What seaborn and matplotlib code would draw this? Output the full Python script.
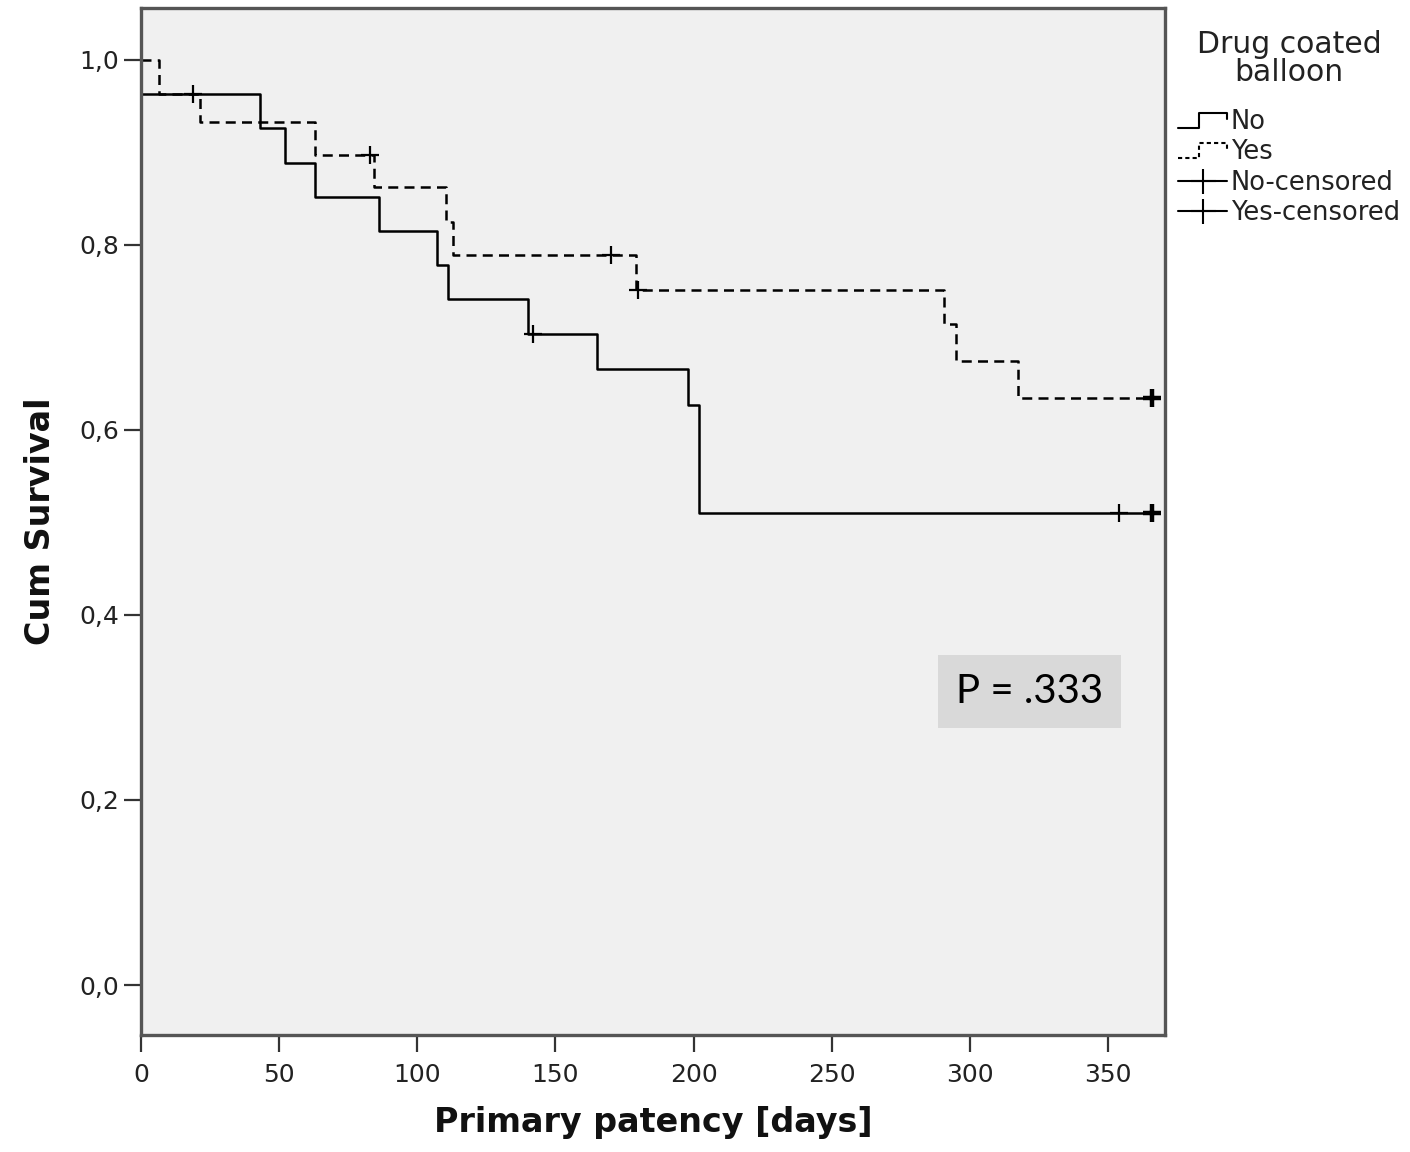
import numpy as np
import pandas as pd
import matplotlib
matplotlib.use("Agg")
import matplotlib.pyplot as plt
import seaborn as sns
from matplotlib.lines import Line2D
from matplotlib.legend_handler import HandlerBase
from matplotlib.ticker import FuncFormatter

# ---- data ----
no_times = [0, 43, 52, 63, 86, 107, 111, 140, 165, 198, 202, 366]
no_surv = [0.963, 0.926, 0.889, 0.852, 0.815, 0.778, 0.741, 0.704, 0.666, 0.627, 0.510, 0.510]
no_cens_times = [142, 354, 366]

yes_times = [0, 6.5, 21.5, 63, 84.5, 110.5, 112.8, 179.3, 290.7, 295, 317.4, 366]
yes_surv = [1.0, 0.963, 0.933, 0.897, 0.862, 0.825, 0.789, 0.751, 0.714, 0.674, 0.634, 0.634]
yes_cens_times = [19, 83, 170, 180, 366]

groups = ["No", "Yes"]
legend_title = "Drug coated\nballoon"
x_ticks = [0, 50, 100, 150, 200, 250, 300, 350]
y_ticks = [0.0, 0.2, 0.4, 0.6, 0.8, 1.0]
p_text = "P = .333"

def surv_at(times, surv, t):
    idx = np.searchsorted(np.asarray(times), t, side="right") - 1
    return float(np.asarray(surv)[idx])

curves = pd.concat([
    pd.DataFrame({"time": no_times, "surv": no_surv, "group": "No"}),
    pd.DataFrame({"time": yes_times, "surv": yes_surv, "group": "Yes"}),
])
cens_no = pd.DataFrame({"time": no_cens_times,
                        "surv": [surv_at(no_times, no_surv, t) for t in no_cens_times]})
cens_yes = pd.DataFrame({"time": yes_cens_times,
                         "surv": [surv_at(yes_times, yes_surv, t) for t in yes_cens_times]})

# ---- figure ----
sns.set_theme(style="white")
plt.rcParams["font.family"] = ["DejaVu Sans"]

fig = plt.figure(figsize=(14.10, 11.52), dpi=100)
ax = fig.add_axes([141 / 1410, 1 - 1035 / 1152, (1165 - 141) / 1410, (1035 - 8) / 1152])
ax.set_facecolor("#f0f0f0")

sub_no = curves[curves.group == "No"]
sub_yes = curves[curves.group == "Yes"]
sns.lineplot(data=sub_no, x="time", y="surv", ax=ax, color="black", lw=1.8,
             drawstyle="steps-post", estimator=None, sort=True, legend=False)
sns.lineplot(data=sub_yes, x="time", y="surv", ax=ax, color="black", lw=1.8,
             drawstyle="steps-post", estimator=None, sort=True, legend=False,
             dashes=False, linestyle=(0, (4, 2.5)))

sns.scatterplot(data=cens_no, x="time", y="surv", ax=ax, marker="+", s=180,
                color="black", linewidth=1.6, legend=False, zorder=5)
sns.scatterplot(data=cens_yes, x="time", y="surv", ax=ax, marker="+", s=180,
                color="black", linewidth=1.6, legend=False, zorder=5)
# heavier ticks at the end (multiple censored)
ax.plot([366, 366], [cens_no.surv.iloc[-1], cens_yes.surv.iloc[-1]], ls="none",
        marker="+", ms=13, mew=3.2, color="black", zorder=6)

ax.set_xlim(0, 370.6)
ax.set_ylim(-0.054, 1.056)
ax.set_xticks(x_ticks)
ax.set_yticks(y_ticks)
ax.yaxis.set_major_formatter(FuncFormatter(lambda v, p: f"{v:.1f}".replace(".", ",")))
ax.tick_params(axis="both", which="major", bottom=True, left=True, direction="out",
               length=12, width=1.6, colors="#333333",
               labelsize=18, labelcolor="#222222", pad=4)
ax.tick_params(axis="x", pad=8)
for s in ax.spines.values():
    s.set_color("#555555")
    s.set_linewidth(2.4)

ax.set_xlabel("Primary patency [days]", fontsize=24, fontweight="bold", color="#111111", labelpad=14)
ax.set_ylabel("Cum Survival", fontsize=24, fontweight="bold", color="#111111", labelpad=16)

ax.text(321.5, 0.317, p_text, ha="center", va="center", fontsize=29, family=["Lato", "DejaVu Sans"],
        color="black", bbox=dict(boxstyle="square,pad=0.45", fc="#d9d9d9", ec="none"))

# ---- legend ----
class StepHandler(HandlerBase):
    def __init__(self, ls):
        super().__init__()
        self.ls = ls
    def create_artists(self, legend, orig_handle, xdescent, ydescent, width, height, fontsize, trans):
        x0, y0 = -xdescent, -ydescent
        xs = [x0, x0 + 0.42 * width, x0 + 0.42 * width, x0 + width, x0 + width]
        ys = [y0 + 0.1 * height, y0 + 0.1 * height, y0 + 0.9 * height, y0 + 0.9 * height, y0 + 0.55 * height]
        ln = Line2D(xs, ys, color="black", lw=1.5, linestyle=self.ls, transform=trans)
        return [ln]

h_no = Line2D([], [], color="black")
h_yes = Line2D([], [], color="black", ls="--")
h_nc = Line2D([], [], color="black", lw=1.5, marker="+", ms=18, mew=1.5)
h_yc = Line2D([], [], color="black", lw=1.5, marker="+", ms=18, mew=1.5)
leg = fig.legend([h_no, h_yes, h_nc, h_yc], [groups[0], groups[1], "No-censored", "Yes-censored"],
                 title=legend_title, loc="upper left", bbox_to_anchor=(1168 / 1410, 1 - 20 / 1152),
                 frameon=False, fontsize=18.5, title_fontsize=21.5, handlelength=1.9,
                 handletextpad=0.15, labelspacing=0.16, borderaxespad=0,
                 handler_map={h_no: StepHandler("-"), h_yes: StepHandler((0, (2, 1.5)))})
for t in leg.get_texts():
    t.set_color("#222222")
leg.get_title().set_color("#222222")
leg.get_title().set_multialignment("center")
leg.get_title().set_linespacing(0.95)
leg._legend_box.sep = 16

fig.savefig("out.png", dpi=100, facecolor="white")
